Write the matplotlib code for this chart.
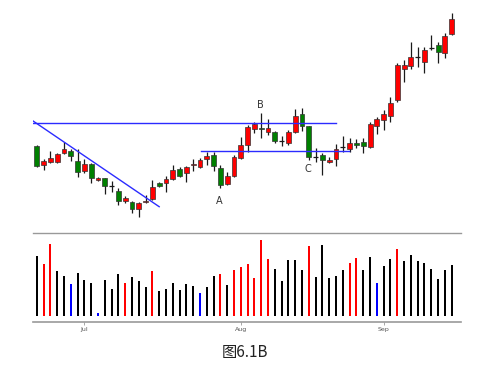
import matplotlib
matplotlib.use("Agg")
import matplotlib.pyplot as plt
import numpy as np

plt.rcParams['font.family'] = ['Noto Sans CJK SC', 'DejaVu Sans']

# ---- data (arbitrary price units) ----
opens  = [84, 65, 68, 68, 77, 79, 69, 59, 66, 50, 52, 44, 39, 29, 28, 21, 28, 31, 47, 47,
          51, 61, 57, 65, 63, 71, 75, 62, 46, 54, 72, 85, 101, 102, 98, 98, 89, 87, 98, 116,
          104, 73, 75, 68, 71, 83, 81, 87, 88, 83, 104, 110, 114, 130, 161, 164, 173, 168, 182, 185,
          177, 196]
highs  = [85, 71, 79, 77, 88, 81, 81, 71, 67, 53, 52, 49, 42, 34, 29, 28, 35, 50, 48, 54,
          65, 63, 64, 71, 72, 78, 78, 65, 58, 75, 93, 105, 108, 117, 111, 99, 94, 100, 121, 122,
          104, 82, 77, 73, 86, 94, 92, 91, 92, 108, 113, 120, 133, 167, 170, 188, 183, 183, 195, 188,
          197, 217]
lows   = [63, 60, 67, 67, 76, 69, 53, 57, 47, 49, 36, 38, 25, 27, 17, 13, 27, 30, 43, 38,
          50, 53, 48, 59, 62, 65, 59, 42, 45, 53, 71, 78, 97, 92, 95, 87, 84, 85, 97, 99,
          70, 68, 55, 67, 64, 78, 78, 82, 77, 82, 96, 100, 108, 128, 148, 161, 163, 157, 180, 167,
          172, 195]
closes = [64, 69, 72, 76, 81, 74, 58, 66, 52, 52, 44, 44, 29, 32, 21, 27, 29, 43, 44, 51,
          60, 54, 63, 66, 70, 74, 64, 45, 54, 73, 85, 103, 106, 101, 102, 89, 89, 98, 114, 104,
          73, 73, 70, 70, 81, 83, 87, 85, 84, 106, 111, 116, 127, 165, 165, 173, 173, 180, 182, 178,
          194, 211]
volumes = [180, 157, 216, 135, 119, 95, 129, 108, 100, 9, 108, 82, 126, 99, 117, 105, 88, 134, 75, 82,
           98, 79, 96, 90, 70, 87, 120, 127, 92, 138, 146, 157, 115, 228, 171, 141, 105, 168, 168, 139,
           209, 116, 212, 114, 121, 137, 159, 173, 139, 176, 98, 151, 170, 201, 164, 183, 165, 160, 141, 112,
           137, 154]
vol_colors = ['k', 'r', 'r', 'k', 'k', 'b', 'k', 'k', 'k', 'b', 'k', 'k', 'k', 'r', 'k', 'k', 'k', 'r', 'k', 'k',
              'k', 'k', 'k', 'k', 'b', 'k', 'k', 'r', 'k', 'r', 'r', 'r', 'r', 'r', 'r', 'k', 'k', 'k', 'k', 'k',
              'r', 'k', 'k', 'k', 'k', 'k', 'r', 'r', 'k', 'k', 'b', 'k', 'k', 'r', 'k', 'k', 'k', 'k', 'k', 'k',
              'k', 'k']
month_ticks = [7, 30, 51]
month_labels = ['Jul', 'Aug', 'Sep']

# trend lines: (x0, y0, x1, y1) in candle index / price units
resistance = (-0.55, 106.7, 43.95, 106.7)
downtrend = (-0.54, 109, 18.0, 23.3)
support = (24.1, 78.8, 45.95, 78.8)
point_labels = [('A', 26.9, 29), ('B', 32.9, 125), ('C', 39.9, 61)]
caption = '图6.1B'

# ---- figure ----
W, H = 503, 372
fig = plt.figure(figsize=(W / 100, H / 100), dpi=100)
fig.patch.set_facecolor('white')

x0p, x1p = 33, 461
ax = fig.add_axes([x0p / W, (H - 228) / H, (x1p - x0p) / W, 228 / H])
axv = fig.add_axes([x0p / W, (H - 322) / H, (x1p - x0p) / W, (322 - 233) / H], sharex=ax)

n = len(opens)
x = np.arange(n)
colmap = {'r': '#ff0000', 'k': '#000000', 'b': '#0000ff'}

for i in range(n):
    o, h, l, c = opens[i], highs[i], lows[i], closes[i]
    ax.vlines(i, l, h, color='#1a1a1a', lw=0.9, zorder=2)
    if c > o:
        ax.bar(i, c - o, bottom=o, width=0.72, color='#ff0000', edgecolor='#333333', lw=0.5, zorder=3)
    elif c < o:
        ax.bar(i, o - c, bottom=c, width=0.72, color='#008000', edgecolor='#333333', lw=0.5, zorder=3)
    else:
        ax.hlines(o, i - 0.36, i + 0.36, color='#1a1a1a', lw=0.9, zorder=3)

ax.plot([resistance[0], resistance[2]], [resistance[1], resistance[3]], color='#2b2bff', lw=1.0, zorder=4)
ax.plot([downtrend[0], downtrend[2]], [downtrend[1], downtrend[3]], color='#2b2bff', lw=1.0, zorder=4)
ax.plot([support[0], support[2]], [support[1], support[3]], color='#2b2bff', lw=1.0, zorder=4)

for t, tx, ty in point_labels:
    ax.text(tx, ty, t, ha='center', va='center', fontsize=7, color='#333333', family=['DejaVu Sans'])

ax.set_xlim(-0.55, 62.37)
ax.set_ylim(2, 230)
ax.axis('off')

axv.bar(x, volumes, width=0.3, color=[colmap[c] for c in vol_colors], zorder=3)
axv.set_ylim(-18, 249)
for s in ['left', 'right']:
    axv.spines[s].set_visible(False)
axv.spines['top'].set_color('#999999')
axv.spines['bottom'].set_color('#999999')
axv.spines['top'].set_linewidth(1.0)
axv.spines['bottom'].set_linewidth(1.2)
axv.set_yticks([])
axv.set_xticks(month_ticks)
axv.set_xticklabels(month_labels, fontsize=4.5, color='#555555', family=['DejaVu Sans'])
axv.tick_params(axis='x', length=2, width=0.6, color='#999999', pad=1.5)
axv.set_xlim(-0.55, 62.37)

fig.text(245 / W, 1 - 352 / H, caption, ha='center', va='center', fontsize=11, color='#222222')

fig.savefig('out.png', dpi=100, facecolor='white')
